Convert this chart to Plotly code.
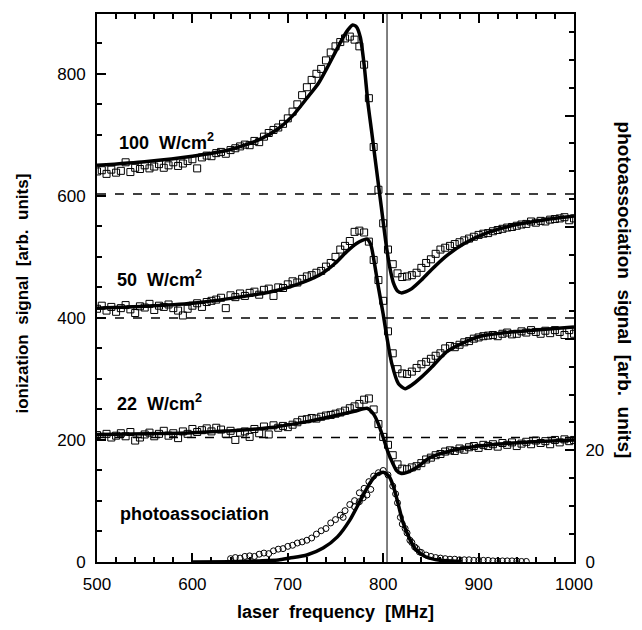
import plotly.graph_objects as go

# ---------------- data ----------------
freq_sq = list(range(500, 1001, 5))

sig_100 = [640, 642, 636, 643, 638, 641, 655, 639, 646, 644,
           650, 645, 648, 652, 646, 650, 655, 649, 653, 657,
           660, 645, 663, 666, 665, 670, 672, 669, 675, 678,
           681, 684, 683, 690, 688, 697, 703, 708, 712, 718,
           727, 738, 750, 765, 778, 790, 800, 808, 822, 835,
           845, 852, 858, 861, 856, 845, 815, 760, 680, 610,
           555, 512, 488, 473, 467, 468, 470, 474, 482, 490,
           496, 505, 512, 515, 518, 521, 524, 527, 530, 533,
           536, 538, 539, 542, 544, 546, 548, 549, 551, 553,
           554, 558, 556, 559, 558, 561, 562, 563, 565, 560,
           563]

sig_50 = [415, 420, 412, 418, 410, 416, 421, 414, 408, 419,
          417, 423, 413, 420, 418, 422, 416, 412, 404, 415,
          420, 424, 418, 426, 428, 430, 433, 416, 437, 434,
          440, 436, 441, 443, 438, 446, 448, 436, 450, 449,
          455, 460, 458, 464, 468, 470, 474, 477, 484, 490,
          500, 512, 518, 526, 541, 543, 540, 525, 495, 462,
          428, 378, 342, 316, 309, 308, 312, 318, 324, 328,
          333, 338, 342, 350, 354, 352, 356, 360, 362, 366,
          368, 370, 371, 372, 370, 374, 376, 373, 374, 378,
          376, 380, 377, 374, 379, 375, 380, 377, 372, 380,
          374]

sig_22 = [208, 205, 210, 204, 207, 211, 206, 213, 199, 204,
          209, 212, 206, 210, 215, 207, 211, 203, 214, 210,
          218, 213, 216, 219, 214, 220, 217, 210, 215, 200,
          212, 214, 205, 218, 211, 222, 209, 224, 220, 223,
          221, 225, 229, 233, 234, 236, 235, 238, 240, 241,
          243, 245, 248, 252, 255, 259, 266, 268, 250, 226,
          205, 192, 175, 160, 153, 152, 155, 157, 162, 168,
          171, 175, 177, 181, 183, 182, 186, 184, 188, 190,
          187, 192, 190, 193, 189, 195, 192, 196, 190, 194,
          197, 193, 199, 195, 198, 193, 200, 196, 201, 198,
          200]

fit100_f = [500, 550, 600, 640, 670, 690, 705, 720, 732, 742, 750, 757, 763, 768,
            772, 776, 780, 784, 788, 793, 798, 803, 807, 811, 815, 819, 824, 830,
            840, 850, 865, 885, 910, 940, 970, 1000]
fit100_v = [650, 656, 665, 676, 692, 710, 731, 760, 784, 812, 836, 857, 872, 880,
            877, 860, 815, 752, 704, 643, 582, 521, 482, 456, 444, 441, 443, 448,
            462, 478, 500, 522, 540, 553, 561, 567]

fit50_f = [500, 550, 600, 640, 680, 710, 735, 750, 762, 772, 778, 783, 787, 791,
           795, 800, 804, 809, 816, 823, 830, 840, 850, 867, 885, 902, 930, 960, 1000]
fit50_v = [416, 419, 424, 432, 442, 455, 472, 490, 509, 522, 527, 529, 520, 488,
           450, 406, 367, 325, 292, 284, 290, 303, 318, 345, 360, 370, 376, 380, 385]

fit22_f = [500, 600, 680, 720, 750, 770, 783, 790, 795, 800, 805, 810, 814, 819,
           825, 835, 849, 870, 900, 936, 970, 1000]
fit22_v = [209, 212, 220, 230, 240, 247, 252, 242, 226, 204, 180, 162, 150, 145,
           147, 155, 171, 182, 190, 195, 198, 200]

pa_f = [640, 645, 650, 655, 660, 665, 670, 675, 680, 685, 690, 695, 700, 705,
        710, 715, 720, 725, 730, 735, 740, 745, 750, 755, 760, 765, 770, 775,
        780, 785, 790, 795, 800, 805, 810, 815, 820, 825, 830, 835, 840, 845,
        850, 855, 860, 865, 870, 875, 880, 885, 890, 895, 900, 905, 910, 915,
        920, 925, 930, 935, 940, 945, 950,
        758, 770, 775, 779, 783, 787, 813, 818, 823, 828, 833, 838]
pa_v = [0.6, 0.8, 0.7, 1.0, 1.1, 1.0, 1.4, 1.6, 1.5, 2.0, 2.3, 2.4, 2.8, 3.0,
        3.4, 3.6, 3.9, 4.3, 5.0, 5.6, 6.0, 7.0, 7.6, 8.4, 9.2, 10.3, 11.0, 12.4,
        13.2, 14.4, 15.4, 16.0, 16.4, 15.6, 13.6, 10.6, 6.8, 5.2, 3.5, 2.4, 1.7, 1.25,
        1.0, 0.8, 0.7, 0.6, 0.5, 0.5, 0.4, 0.4, 0.4, 0.3, 0.3, 0.3, 0.3, 0.2,
        0.2, 0.2, 0.2, 0.2, 0.2, 0.1, 0.1,
        8.0, 9.9, 10.8, 11.5, 12.0, 13.0, 12.2, 8.0, 6.0, 3.9, 2.7, 1.8]

fitpa_f = [600, 640, 670, 690, 702, 720, 737, 752, 765, 776, 786, 793, 800, 806,
           811, 816, 820, 825, 830, 835, 845, 860, 880]
fitpa_v = [0.0, 0.05, 0.2, 0.35, 0.7, 1.25, 2.5, 4.5, 7.5, 11.0, 14.1, 15.6, 16.1,
           15.4, 13.4, 10.2, 7.5, 5.2, 3.4, 2.1, 0.9, 0.3, 0.1]

baselines = [603, 400, 204]
resonance = 804

labels = ["100\u00a0\u00a0W/cm<sup>2</sup>", "50\u00a0\u00a0W/cm<sup>2</sup>",
          "22\u00a0\u00a0W/cm<sup>2</sup>", "photoassociation"]
label_f = [521, 519, 519, 522]
label_v = [689, 465, 261, 78]

# ---------------- figure ----------------
FONT = "Liberation Sans, Arial, Helvetica, sans-serif"
fig = go.Figure()

for sig in (sig_100, sig_50, sig_22):
    fig.add_trace(go.Scatter(x=freq_sq, y=sig, mode="markers",
                             marker=dict(symbol="square-open", size=7, color="black",
                                         line=dict(width=1, color="black")),
                             hoverinfo="skip"))
for fx, fv in ((fit100_f, fit100_v), (fit50_f, fit50_v), (fit22_f, fit22_v)):
    fig.add_trace(go.Scatter(x=fx, y=fv, mode="lines",
                             line=dict(color="black", width=3.5, shape="spline", smoothing=0.6),
                             hoverinfo="skip"))

fig.add_trace(go.Scatter(x=fitpa_f, y=fitpa_v, mode="lines", yaxis="y2",
                         line=dict(color="black", width=3.5, shape="spline", smoothing=0.6),
                         hoverinfo="skip"))
fig.add_trace(go.Scatter(x=pa_f, y=pa_v, mode="markers", yaxis="y2",
                         marker=dict(symbol="circle-open", size=6, color="black",
                                     line=dict(width=1, color="black")),
                         hoverinfo="skip"))

for b in baselines:
    fig.add_shape(type="line", xref="paper", x0=0, x1=1, yref="y", y0=b, y1=b,
                  line=dict(color="black", width=1.5, dash="dash"))
fig.add_shape(type="line", xref="x", x0=resonance, x1=resonance, yref="paper", y0=0, y1=1,
              line=dict(color="black", width=1))

for t, fx, fv in zip(labels, label_f, label_v):
    fig.add_annotation(x=fx, y=fv, xref="x", yref="y", text="<b>" + t + "</b>",
                       showarrow=False, xanchor="left", yanchor="middle",
                       font=dict(family=FONT, size=18, color="black"))

fig.add_annotation(x=0.5, y=-0.091, xref="paper", yref="paper",
                   text="<b>laser\u00a0\u00a0frequency\u00a0\u00a0[MHz]</b>", showarrow=False,
                   xanchor="center", yanchor="middle",
                   font=dict(family=FONT, size=18, color="black"))
fig.add_annotation(x=-0.157, y=0.49, xref="paper", yref="paper",
                   text="<b>ionization\u00a0\u00a0signal\u00a0\u00a0[arb.\u00a0\u00a0units]</b>",
                   showarrow=False, textangle=-90, xanchor="center", yanchor="middle",
                   font=dict(family=FONT, size=17, color="black"))
fig.add_annotation(x=1.105, y=0.497, xref="paper", yref="paper",
                   text="<b>photoassociation\u00a0\u00a0signal\u00a0\u00a0[arb.\u00a0\u00a0units]</b>",
                   showarrow=False, textangle=90, xanchor="center", yanchor="middle",
                   font=dict(family=FONT, size=19, color="black"))

tickfont = dict(family=FONT, size=17, color="black")
fig.update_layout(
    width=626, height=614,
    margin=dict(l=89, r=60, t=4, b=60),
    plot_bgcolor="white", paper_bgcolor="white",
    showlegend=False,
    xaxis=dict(range=[500, 1000], tick0=500, dtick=100, ticks="inside", ticklen=9,
               tickwidth=2, tickcolor="black", showline=True, linewidth=2,
               linecolor="black", mirror="ticks", showgrid=False, zeroline=False,
               tickfont=tickfont, ticklabelstandoff=6,
               minor=dict(dtick=20, tick0=500, ticks="inside", ticklen=5,
                          tickwidth=2, tickcolor="black", showgrid=False)),
    yaxis=dict(range=[0, 898], tick0=0, dtick=200, ticks="inside", ticklen=9,
               tickwidth=2, tickcolor="black", showline=True, linewidth=2,
               linecolor="black", mirror=True, showgrid=False, zeroline=False,
               tickfont=tickfont, ticklabelstandoff=6,
               minor=dict(dtick=50, tick0=0, ticks="inside", ticklen=5,
                          tickwidth=2, tickcolor="black", showgrid=False)),
    yaxis2=dict(range=[0, 98.2], overlaying="y", side="right",
                tickvals=[0, 20, 40, 60, 80], ticktext=["0", "20", "", "", ""],
                ticks="inside", ticklen=9, tickwidth=2, tickcolor="black",
                showline=True, linewidth=2, linecolor="black", showgrid=False,
                zeroline=False, tickfont=tickfont, ticklabelstandoff=6,
                minor=dict(dtick=5, tick0=0, ticks="inside", ticklen=5,
                           tickwidth=2, tickcolor="black", showgrid=False)),
)

fig.write_html("out.html")
